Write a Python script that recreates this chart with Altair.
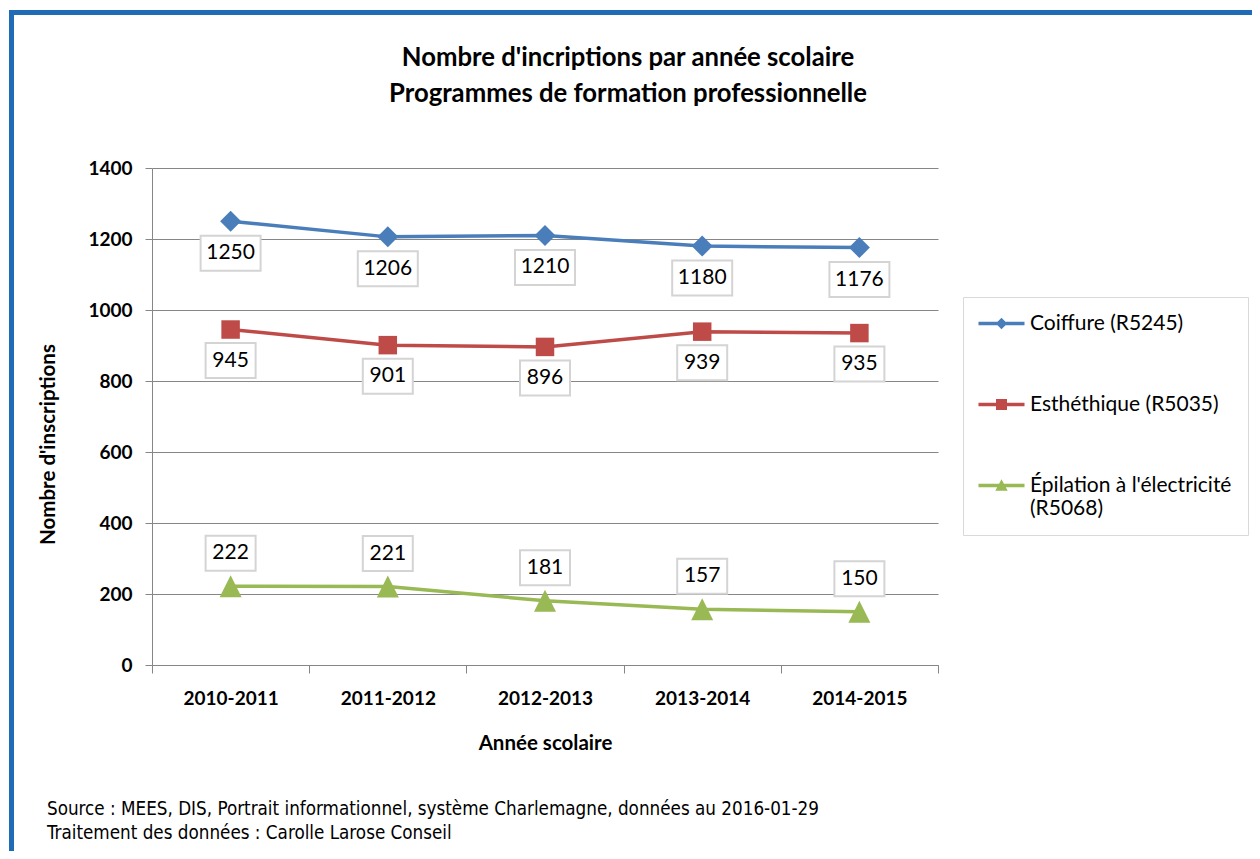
import altair as alt
import pandas as pd

# ---------------- data ----------------
years = ["2010-2011", "2011-2012", "2012-2013", "2013-2014", "2014-2015"]
series_names = ["Coiffure (R5245)", "Esthéthique (R5035)", "Épilation à l'électricité (R5068)"]
coiffure = [1250, 1206, 1210, 1180, 1176]
esthetique = [945, 901, 896, 939, 935]
epilation = [222, 221, 181, 157, 150]
y_ticks = [0, 200, 400, 600, 800, 1000, 1200, 1400]

title_lines = ["Nombre d'incriptions par année scolaire", "Programmes de formation professionnelle"]
footer_lines = [
    "Source : MEES, DIS,  Portrait informationnel, système Charlemagne, données au 2016-01-29",
    "Traitement des données : Carolle Larose Conseil",
]

# ---------------- styles ----------------
FONT = "Lato"
FOOT_FONT = "Liberation Sans Narrow, Arial Narrow, DejaVu Sans Condensed, sans-serif"
series_colors = ["#4A7EBB", "#BE4B48", "#98B954"]
marker_shapes = ["diamond", "square", "M0,-1L1,1L-1,1Z"]
marker_sizes = [441, 342, 484]
label_offsets = [32, 31, -33]
# legend symbols: line segment + marker (units of 5 px, symbolSize 100)
legend_paths = [
    "M-2.2,-0.35H7V0.35H-2.2Z M2.4,-1.15L3.55,0L2.4,1.15L1.25,0Z",
    "M-2.2,-0.35H7V0.35H-2.2Z M1.3,-1.1H3.5V1.1H1.3Z",
    "M-2.2,-0.35H7V0.35H-2.2Z M2.4,-1.24L3.64,1.06H1.16Z",
]
BOX4 = "M-1,-0.5833H1V0.5833H-1Z"
BOX3 = "M-1,-0.7H1V0.7H-1Z"
GRID = "#868686"
FRAME = "#1F6BB5"

rows = []
for name, vals in zip(series_names, [coiffure, esthetique, epilation]):
    for yr, v in zip(years, vals):
        rows.append({"annee": yr, "serie": name, "valeur": v})
df = pd.DataFrame(rows)

x_enc = alt.X(
    "annee:N",
    scale=alt.Scale(type="band", domain=years, paddingInner=0, paddingOuter=0),
    axis=alt.Axis(
        title="Année scolaire", tickBand="extent", grid=False,
        domainColor=GRID, tickColor=GRID, tickSize=8, labelPadding=16,
        labelFont=FONT, labelFontSize=19, labelFontWeight="bold", labelColor="black", labelAngle=0,
        titleFont=FONT, titleFontSize=20.5, titleFontWeight="bold", titleColor="black",
        titleY=78, titleBaseline="middle",
    ),
)
y_enc = alt.Y(
    "valeur:Q",
    scale=alt.Scale(domain=[0, 1400], nice=False),
    axis=alt.Axis(
        title="Nombre d'inscriptions", values=y_ticks, format="d",
        grid=True, gridColor=GRID, gridWidth=1, domainColor=GRID, tickColor=GRID, tickSize=7,
        labelPadding=13, labelFont=FONT, labelFontSize=19, labelFontWeight="bold", labelColor="black",
        titleFont=FONT, titleFontSize=20.5, titleFontWeight="bold", titleColor="black",
        titleX=-104, titleY=276, titleBaseline="middle",
    ),
)

base = alt.Chart(df)

leg = alt.Legend(
    title=None, orient="none", legendX=811, legendY=129, direction="vertical",
    symbolSize=100, symbolStrokeWidth=0, symbolOpacity=1,
    labelFont=FONT, labelFontSize=21, labelColor="black", labelLimit=400, labelOffset=30,
    rowPadding=59, padding=16, strokeColor="#D9D9D9", fillColor="white",
    labelExpr='length(datum.label) > 25 ? [slice(datum.label, 0, lastindexof(datum.label, " ")), '
              'slice(datum.label, lastindexof(datum.label, " ") + 1)] : datum.label',
)

legend_layer = base.mark_point(filled=True, opacity=0).encode(
    x=x_enc, y=y_enc,
    color=alt.Color("serie:N", scale=alt.Scale(domain=series_names, range=series_colors), legend=leg),
    shape=alt.Shape("serie:N", scale=alt.Scale(domain=series_names, range=legend_paths), legend=leg),
)

layers = [legend_layer]
for i, name in enumerate(series_names):
    sub = base.transform_filter(alt.datum.serie == name)
    layers.append(sub.mark_line(color=series_colors[i], strokeWidth=3.5).encode(x=x_enc, y=y_enc))
for i, name in enumerate(series_names):
    sub = base.transform_filter(alt.datum.serie == name)
    layers.append(sub.mark_point(filled=True, opacity=1, color=series_colors[i],
                                 shape=marker_shapes[i], size=marker_sizes[i]).encode(x=x_enc, y=y_enc))
for i, name in enumerate(series_names):
    sub = base.transform_filter(alt.datum.serie == name)
    layers.append(sub.mark_point(filled=True, opacity=1, fill="white", stroke="#D4D4D4", strokeWidth=2,
                                 yOffset=label_offsets[i]).encode(
        x=x_enc, y=y_enc,
        shape=alt.condition("datum.valeur >= 1000", alt.value(BOX4), alt.value(BOX3)),
        size=alt.condition("datum.valeur >= 1000", alt.value(3600), alt.value(2500)),
    ))
    layers.append(sub.mark_text(font=FONT, fontSize=21, color="black", align="center", baseline="middle",
                                yOffset=label_offsets[i]).encode(
        x=x_enc, y=y_enc, text=alt.Text("valeur:Q", format="d")))

one = pd.DataFrame({"k": [0]})
footer = alt.Chart(one).mark_text(font=FOOT_FONT, fontSize=18.7, color="black", align="left",
                                  baseline="top", lineHeight=24).encode(
    x=alt.value(-105), y=alt.value(632), text=alt.value(footer_lines))
frame_top = alt.Chart(one).mark_rule(color=FRAME, strokeWidth=5).encode(
    x=alt.value(-143), x2=alt.value(1110), y=alt.value(-155.5))
frame_left = alt.Chart(one).mark_rule(color=FRAME, strokeWidth=5).encode(
    x=alt.value(-140.5), y=alt.value(-158), y2=alt.value(700))

chart = alt.layer(*layers, footer, frame_top, frame_left).properties(
    width=786, height=497,
    padding={"left": 144, "top": 160, "right": 314, "bottom": 186},
    autosize=alt.AutoSizeParams(type="none"),
    background="white",
    view=alt.ViewBackground(stroke="transparent", strokeWidth=0, strokeOpacity=0),
    title=alt.TitleParams(
        text=title_lines, font=FONT, fontSize=25.7, fontWeight="bold", color="black",
        anchor="middle", dx=83, dy=100, lineHeight=36, offset=0,
    ),
).configure_view(stroke="transparent", strokeWidth=0, strokeOpacity=0)

chart.save("out.html", embed_options={"renderer": "svg", "actions": False})
